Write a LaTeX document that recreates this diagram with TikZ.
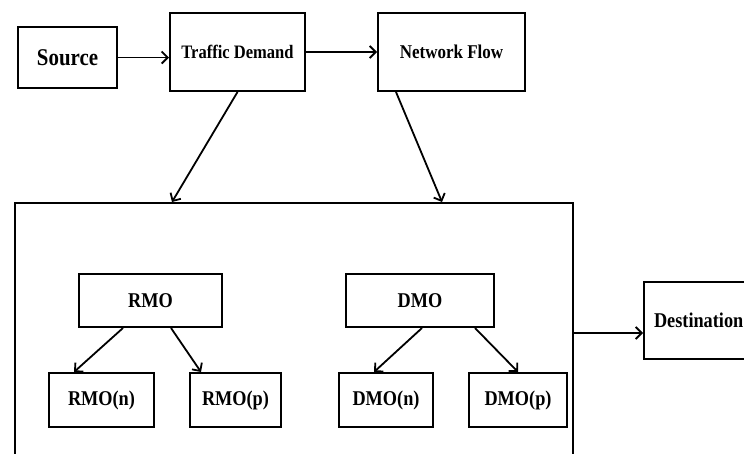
\documentclass[tikz,border=0pt]{standalone}
\usepackage{fontspec}
\setmainfont{Liberation Serif}
\newfontfamily\condserif[FakeStretch=0.87]{Liberation Serif}
\usepackage{tikz}
\usetikzlibrary{arrows.meta, calc}
\tikzset{
  % plain rectangle, bold narrow label of given size
  box/.style={draw, line width=2pt, inner sep=0pt, align=center,
              font=\condserif\bfseries\fontsize{#1}{#1}\selectfont},
  box/.default=21,
  % connector with open tip
  arr/.style={-{Straight Barb[length=6pt, width=12pt]}, line width=1.8pt},
}

\begin{document}
\begin{tikzpicture}[x=1pt, y=-1pt]
  \useasboundingbox (0,0) rectangle (744,453);
  \clip (0,0) rectangle (744,453);
  % top row
  \node[box=24, minimum width=99pt, minimum height=61pt] (source) at (67.5,57.5) {Source};
  \node[box=19, minimum width=135pt, minimum height=78pt] (td) at (237.5,52) {Traffic Demand};
  \node[box=19.5, minimum width=147pt, minimum height=78pt] (nf) at (451.5,52) {Network Flow};
  % large frame
  \node[draw, line width=2pt, minimum width=558pt, minimum height=267pt] (panel) at (294,336.5) {};
  % inner boxes
  \node[box, minimum width=143pt, minimum height=53pt] (rmo) at (150.5,300.5) {RMO};
  \node[box, minimum width=148pt, minimum height=53pt] (dmo) at (420,300.5) {DMO};
  \node[box, minimum width=105pt, minimum height=54pt] (rmon) at (101.5,400) {RMO(n)};
  \node[box, minimum width=91pt, minimum height=54pt] (rmop) at (235.5,400) {RMO(p)};
  \node[box, minimum width=94pt, minimum height=54pt] (dmon) at (386,400) {DMO(n)};
  \node[box, minimum width=98pt, minimum height=54pt] (dmop) at (518,400) {DMO(p)};
  \node[box, anchor=west, inner xsep=10pt, minimum height=77pt] (dest) at (643,320.5) {Destination};
  \coordinate (destin) at ([yshift=-12.5pt]dest.west);
  % connectors
  \draw[arr] (source.east) -- (source.east -| td.west);
  \draw[arr] (td) -- (nf);
  \draw[arr] (td.south) -- ([xshift=158pt]panel.north west);
  \draw[arr] ([xshift=19pt]nf.south west) -- ([xshift=428pt]panel.north west);
  \draw[arr] ([xshift=45pt]rmo.south west) -- ([xshift=26pt]rmon.north west);
  \draw[arr] ([xshift=93pt]rmo.south west) -- ([xshift=12pt]rmop.north west);
  \draw[arr] ([xshift=77pt]dmo.south west) -- ([xshift=36pt]dmon.north west);
  \draw[arr] ([xshift=130pt]dmo.south west) -- (dmop.north);
  \draw[arr] (panel.east |- destin) -- (destin);
\end{tikzpicture}
\end{document}
